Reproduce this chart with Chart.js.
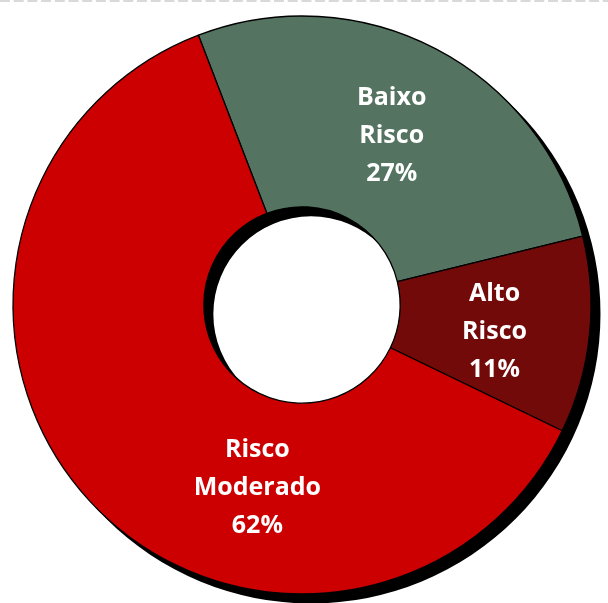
<!DOCTYPE html>
<html>
<head>
<meta charset="utf-8">
<script src="https://cdn.jsdelivr.net/npm/chart.js@4"></script>
<style>
  html, body { margin: 0; padding: 0; background: #fff; }
  #wrap { width: 608px; height: 603px; position: relative; }
</style>
</head>
<body>
<div id="wrap"><canvas id="riskChart"></canvas></div>
<script>
// data
const labels = [['Baixo', 'Risco'], ['Alto', 'Risco'], ['Risco', 'Moderado']]
const values = [27, 11, 62]
const colors = ['#547461', '#730A0A', '#CC0000']

// dashed rule at the very top of the picture
const topRule = {
  id: 'topRule',
  beforeDraw(chart) {
    const ctx = chart.ctx
    ctx.save()
    ctx.strokeStyle = '#d9d9d9'
    ctx.lineWidth = 2
    ctx.setLineDash([10, 3.7])
    ctx.beginPath()
    ctx.moveTo(0, 1)
    ctx.lineTo(chart.width, 1)
    ctx.stroke()
    ctx.restore()
  }
}

// solid black drop shadow of the whole ring, offset to bottom right
const ringShadow = {
  id: 'ringShadow',
  beforeDatasetsDraw(chart) {
    const arc = chart.getDatasetMeta(0).data[0]
    if (!arc) return
    const { x, y, innerRadius, outerRadius } = arc.getProps(['x', 'y', 'innerRadius', 'outerRadius'], true)
    const ctx = chart.ctx
    ctx.save()
    ctx.translate(9, 9)
    ctx.fillStyle = '#000'
    ctx.beginPath()
    ctx.arc(x, y, outerRadius + 0.5, 0, Math.PI * 2)
    ctx.arc(x, y, innerRadius - 0.5, Math.PI * 2, 0, true)
    ctx.fill('evenodd')
    ctx.restore()
  }
}

// white labels inside the slices
const sliceLabels = {
  id: 'sliceLabels',
  afterDatasetsDraw(chart, args, opts) {
    const ctx = chart.ctx
    const meta = chart.getDatasetMeta(0)
    const total = values.reduce((a, b) => a + b, 0)
    ctx.save()
    ctx.fillStyle = '#fff'
    ctx.font = 'bold 25px "Open Sans", Lato, sans-serif'
    ctx.textAlign = 'center'
    ctx.textBaseline = 'middle'
    meta.data.forEach((arc, i) => {
      const p = arc.getProps(['x', 'y', 'startAngle', 'endAngle', 'innerRadius', 'outerRadius'], true)
      const f = opts.along[i]
      const a = p.startAngle + (p.endAngle - p.startAngle) * f
      const r = (p.innerRadius + p.outerRadius) / 2 + opts.radial[i]
      const cx = p.x + Math.cos(a) * r
      const cy = p.y + Math.sin(a) * r + opts.shiftY[i]
      const lines = labels[i].concat([Math.round(values[i] / total * 100) + '%'])
      const lh = 38
      lines.forEach((t, k) => {
        ctx.fillText(t, cx, cy + (k - (lines.length - 1) / 2) * lh)
      })
    })
    ctx.restore()
  }
}

const ctxRisk = document.getElementById('riskChart')
window.riskChart = new Chart(ctxRisk, {
  type: 'doughnut',
  data: {
    labels: labels.map(l => l.join(' ')),
    datasets: [{
      data: values,
      backgroundColor: colors,
      borderColor: '#000',
      borderWidth: 1.3
    }]
  },
  options: {
    responsive: true,
    maintainAspectRatio: false,
    animation: false,
    rotation: -21,
    radius: 289,
    cutout: 101,
    layout: { padding: { left: 0, right: 4, top: 7, bottom: 0 } },
    plugins: {
      legend: { display: false },
      tooltip: { enabled: false },
      sliceLabels: {
        along: [0.5, 0.5, 0.35],
        radial: [0, 0, -8],
        shiftY: [2, 7, 3]
      }
    }
  },
  plugins: [topRule, ringShadow, sliceLabels]
})
</script>
</body>
</html>
